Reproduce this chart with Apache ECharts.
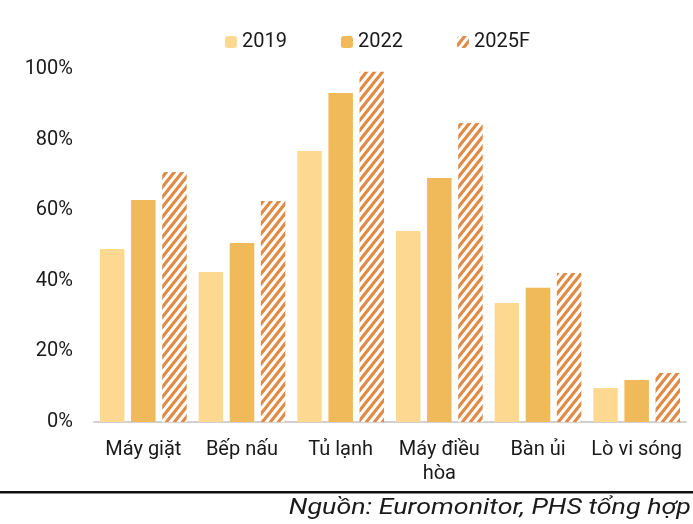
<!DOCTYPE html>
<html>
<head>
<meta charset="utf-8">
<script src="https://cdn.jsdelivr.net/npm/echarts@6/dist/echarts.min.js"></script>
<style>
  html, body { margin: 0; padding: 0; background: #fff; }
  #chart { width: 693px; height: 524px; }
</style>
</head>
<body>
<div id="chart"></div>
<script>
// Appliance penetration by household (%)
const categories = ['Máy giặt', 'Bếp nấu', 'Tủ lạnh', 'Máy điều\nhòa', 'Bàn ủi', 'Lò vi sóng'];
const seriesNames = ['2019', '2022', '2025F'];
const values2019 = [49, 42.5, 76.8, 54.1, 33.7, 9.6];
const values2022 = [62.9, 50.7, 93.2, 69.1, 38, 11.9];
const values2025F = [70.8, 62.6, 99.2, 84.7, 42.2, 13.9];
const yTicks = [0, 20, 40, 60, 80, 100];

// Diagonal hatch fill for the forecast bars (tile w x h, stripe runs corner to corner)
function hatchPattern() {
  const w = 8, h = 10;
  const c = document.createElement('canvas');
  c.width = w; c.height = h;
  const ctx = c.getContext('2d');
  ctx.fillStyle = '#ffffff';
  ctx.fillRect(0, 0, w, h);
  ctx.strokeStyle = '#E08A45';
  ctx.lineWidth = 3.2;
  ctx.beginPath();
  for (let k = -1; k <= 1; k++) {
    ctx.moveTo(k * w - w, 2 * h);
    ctx.lineTo(k * w + 2 * w, -h);
  }
  ctx.stroke();
  return c;
}

const chart = echarts.init(document.getElementById('chart'));
const font = 'Roboto, "Noto Sans", sans-serif';

chart.setOption({
  animation: false,
  textStyle: { fontFamily: font },
  legend: {
    top: 27,
    left: 220,
    itemWidth: 12,
    itemHeight: 12,
    itemGap: 54,
    textStyle: { fontSize: 20, color: '#1a1a1a', fontFamily: font },
    data: seriesNames
  },
  grid: { left: 94, right: 7, top: 69, bottom: 102 },
  xAxis: {
    type: 'category',
    data: categories,
    axisLine: { lineStyle: { color: '#d0d0d0', width: 2 } },
    axisTick: { show: false },
    axisLabel: { fontSize: 20, color: '#1a1a1a', margin: 16, lineHeight: 24, interval: 0 }
  },
  yAxis: {
    type: 'value',
    min: yTicks[0],
    max: yTicks[yTicks.length - 1],
    interval: 20,
    splitLine: { show: false },
    axisLine: { show: false },
    axisTick: { show: false },
    axisLabel: { fontSize: 20, color: '#1a1a1a', margin: 21, formatter: '{value}%' }
  },
  series: [
    { name: seriesNames[0], type: 'bar', data: values2019, barWidth: 24.5, barGap: '27%',
      itemStyle: { color: '#FDD891' } },
    { name: seriesNames[1], type: 'bar', data: values2022, barWidth: 24.5, barGap: '27%',
      itemStyle: { color: '#F0B95A' } },
    { name: seriesNames[2], type: 'bar', data: values2025F, barWidth: 24.5, barGap: '27%',
      itemStyle: { color: { image: hatchPattern(), repeat: 'repeat' } } }
  ],
  graphic: [
    { type: 'rect', left: 0, top: 491, shape: { width: 693, height: 2.5 }, style: { fill: '#111' } },
    { type: 'text', x: 691, y: 497, scaleX: 1.22,
      style: { text: 'Nguồn: Euromonitor, PHS tổng hợp', font: 'italic 22px ' + font,
               fill: '#1a1a1a', align: 'right', verticalAlign: 'top' } }
  ]
});
</script>
</body>
</html>
